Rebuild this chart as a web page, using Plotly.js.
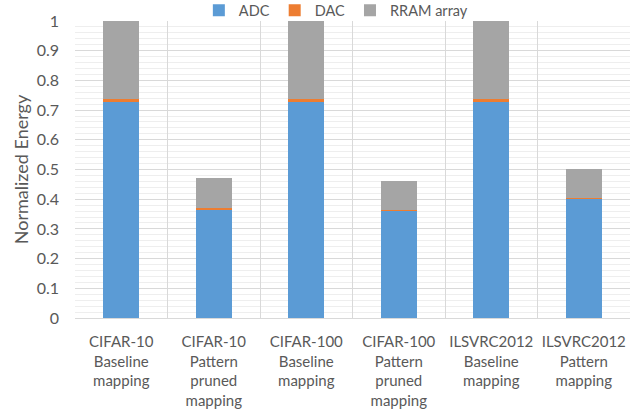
<!DOCTYPE html>
<html>
<head>
<meta charset="utf-8">
<script src="https://cdn.plot.ly/plotly-3.0.1.min.js"></script>
<style>html,body{margin:0;padding:0;background:#fff;}#chart{width:635px;height:416px;}</style>
</head>
<body>
<div id="chart"></div>
<script>
const categories = [
  "CIFAR-10<br>Baseline<br>mapping",
  "CIFAR-10<br>Pattern<br>pruned<br>mapping",
  "CIFAR-100<br>Baseline<br>mapping",
  "CIFAR-100<br>Pattern<br>pruned<br>mapping",
  "ILSVRC2012<br>Baseline<br>mapping",
  "ILSVRC2012<br>Pattern<br>mapping"
];
const adc = [0.728, 0.365, 0.728, 0.360, 0.728, 0.400];
const dac = [0.008, 0.005, 0.008, 0.005, 0.008, 0.004];
const rram = [0.264, 0.100, 0.264, 0.097, 0.264, 0.098];
const seriesNames = ["ADC", "DAC", "RRAM array"];
const seriesColors = ["#5B9BD5", "#ED7D31", "#A5A5A5"];
const seriesValues = [adc, dac, rram];

const font = "Lato, 'Open Sans', sans-serif";
const traces = seriesValues.map((vals, i) => ({
  type: "bar",
  name: seriesNames[i],
  x: categories,
  y: vals,
  marker: {color: seriesColors[i]},
  hoverinfo: "skip"
}));

const layout = {
  width: 635, height: 416,
  margin: {l: 75, r: 5, t: 21, b: 98, autoexpand: false},
  barmode: "stack",
  bargap: 0.61,
  paper_bgcolor: "#fff",
  plot_bgcolor: "#fff",
  font: {family: font, size: 15, color: "#595959"},
  showlegend: true,
  legend: {
    orientation: "h", x: 0.47, xanchor: "center", y: 1.036, yanchor: "middle",
    bgcolor: "rgba(0,0,0,0)",
    font: {family: font, size: 14.5, color: "#595959"},
    traceorder: "normal", itemwidth: 30, tracegroupgap: 0
  },
  xaxis: {
    type: "category",
    tickson: "boundaries",
    showgrid: true, gridcolor: "#D9D9D9", gridwidth: 1,
    ticks: "", showline: true, linecolor: "#D9D9D9",
    tickfont: {family: font, size: 15, color: "#595959"},
    ticklabelstandoff: 10,
    zeroline: false
  },
  yaxis: {
    range: [0, 1], dtick: 0.1, tick0: 0,
    showgrid: true, gridcolor: "#D9D9D9", gridwidth: 1,
    minor: {dtick: 0.02, showgrid: true, gridcolor: "#EEEEEE", gridwidth: 1},
    zeroline: false, showline: false, ticks: "",
    tickfont: {family: font, size: 16, color: "#595959"},
    ticklabelstandoff: 15,
    title: {text: "Normalized Energy", font: {family: font, size: 18, color: "#595959"}, standoff: 3}
  }
};

Plotly.newPlot("chart", traces, layout, {displayModeBar: false, staticPlot: true});
</script>
</body>
</html>
